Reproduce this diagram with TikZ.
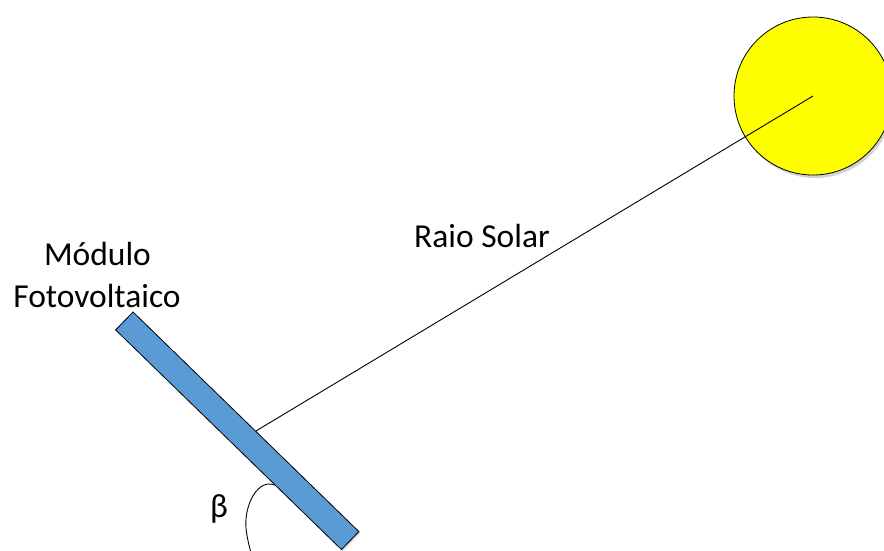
\documentclass[tikz,border=0pt]{standalone}
\usepackage{fontspec}
\setmainfont{Carlito}
\usetikzlibrary{%
    calc,%
    shadows,%
    positioning
    }
\definecolor{panelblue}{RGB}{91,155,213}
\definecolor{sunyellow}{RGB}{255,255,0}
\tikzset{
  sun/.style={
    circle,
    minimum size=158pt,
    inner sep=0pt,
    draw=black,
    line width=0.8pt,
    fill=sunyellow,
    drop shadow={shadow xshift=2pt, shadow yshift=-3pt, opacity=0.35},
  },
  panel/.style={
    rectangle,
    minimum width=315pt,
    minimum height=25pt,
    inner sep=0pt,
    rotate=-44.2,
    draw=black,
    line width=0.8pt,
    fill=panelblue,
    drop shadow={shadow xshift=1.5pt, shadow yshift=-1.5pt, opacity=0.35},
  },
  label/.style={
    anchor=base,
    inner sep=0pt,
    font=\fontsize{33.5}{40}\selectfont,
  },
  ray/.style={
    black,
    line width=0.9pt,
  },
}

\begin{document}
\begin{tikzpicture}[x=1pt,y=-1pt]
\useasboundingbox (0,0) rectangle (884,550);
\clip (0,0) rectangle (884,550);

\node[sun] 
  (sol) 
  at (813,96) {};
\node[panel] 
  (modulo) 
  at (237.25,430.75) {};

\coordinate (hit) at ($(modulo.north)!0.086!(modulo.north east)$);
\coordinate (arcstart) at ($(modulo.south)!0.41!(modulo.south east)$);
\coordinate (arcend) at (251,553);

\node[label] 
  (modtxt) 
  at (97.5,265) 
  {Módulo};
\node[label] 
  (fototxt) 
  at (97,307) 
  {Fotovoltaico};
\node[label] 
  (raiotxt) 
  at (482,247) 
  {Raio Solar};
\node[label] 
  (beta) 
  at (219,517) 
  {β};

\begin{scope}[ray]
\draw
  (sol.center) -- (hit);
\draw
  (arcstart) .. controls (258,478) and (244,505) .. (246,528)
  .. controls (247,538) and (249,545) .. (arcend);
\end{scope}
\end{tikzpicture}
\end{document}
